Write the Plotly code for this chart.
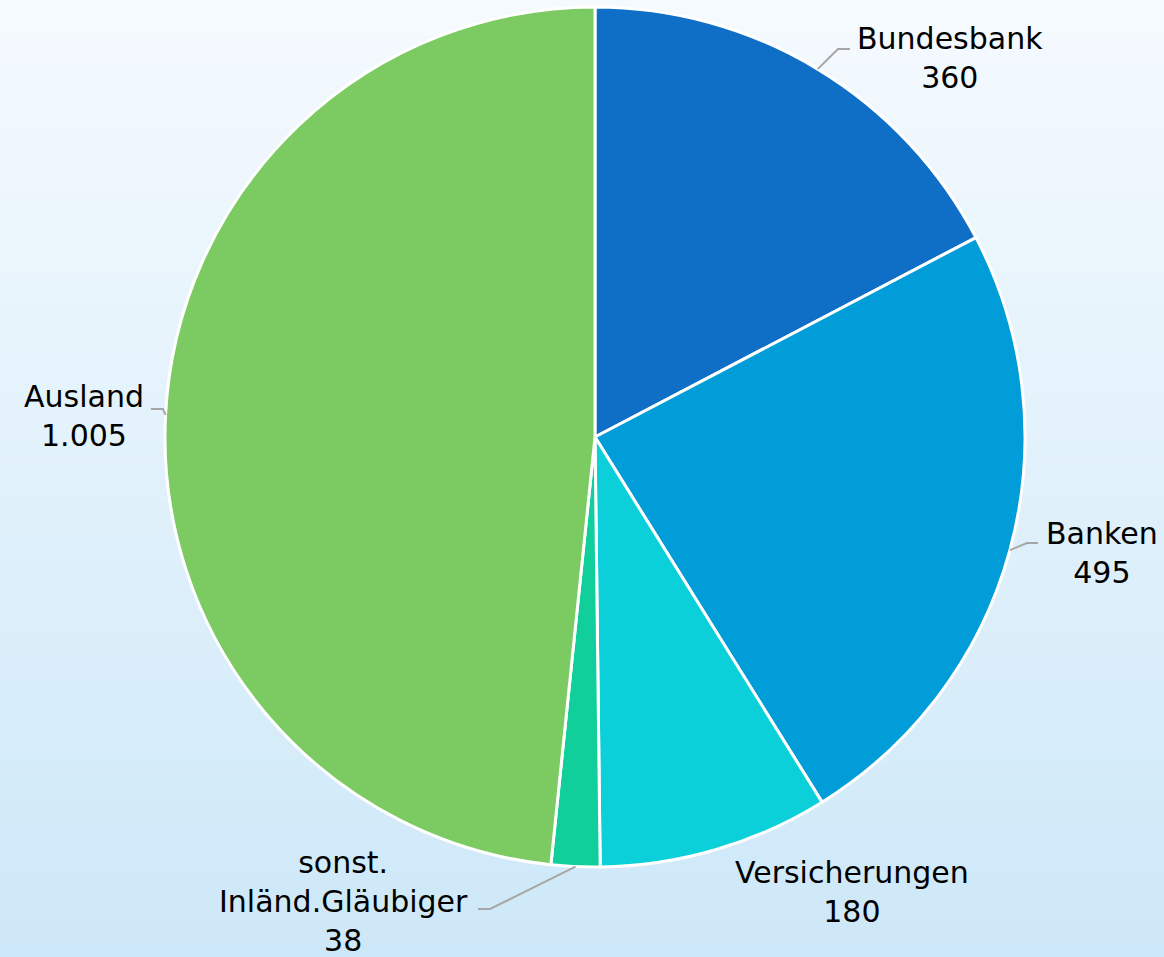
import math
import plotly.graph_objects as go

# ---- data ----
labels = ["Bundesbank", "Banken", "Versicherungen", "sonst.<br>Inländ.Gläubiger", "Ausland"]
values = [360, 495, 180, 38, 1005]
value_text = ["360", "495", "180", "38", "1.005"]

# ---- style ----
colors = ["#0F6FC6", "#009DD9", "#0BD0D9", "#10CF9B", "#7CCA62"]
W, H = 1164, 957
CX, CY, R = 595, 437, 430
FONT = "Century Gothic, DejaVu Sans, sans-serif"
FS = 30

# label block centres (px) and leader elbow points (px); None = no leader
label_pos = [(950, 58), (1102, 553), (852, 892), (343, 901), (84, 416)]
elbows = [[(838, 49), (850, 49)],
          [(1027, 543), (1038, 543)],
          None,
          [(490, 909), (478, 909)],
          [(163, 409), (151, 409)]]


def px2paper(x, y):
    return x / W, 1 - y / H


fig = go.Figure()

fig.add_trace(go.Pie(
    labels=[l.replace("<br>", " ") for l in labels],
    values=values,
    sort=False,
    direction="clockwise",
    rotation=0,
    marker=dict(colors=colors, line=dict(color="white", width=3)),
    textinfo="none",
    hoverinfo="label+value",
    showlegend=False,
    domain=dict(x=[(CX - R) / W, (CX + R) / W], y=[1 - (CY + R) / H, 1 - (CY - R) / H]),
))

# background gradient
shapes = []
c_top = (245, 250, 254)
c_bot = (205, 232, 248)
N = 80
for i in range(N):
    t = i / (N - 1)
    c = tuple(round(c_top[k] + (c_bot[k] - c_top[k]) * t) for k in range(3))
    shapes.append(dict(type="rect", xref="paper", yref="paper", layer="below",
                       x0=0, x1=1, y0=1 - (i + 1) / N - 0.002, y1=1 - i / N,
                       fillcolor="rgb(%d,%d,%d)" % c, line=dict(width=0)))

annotations = []
total = sum(values)
cum = 0
for i, v in enumerate(values):
    mid = (cum + v / 2) / total * 2 * math.pi
    cum += v
    sx = CX + R * math.sin(mid)
    sy = CY - R * math.cos(mid)
    if elbows[i] is not None:
        pts = [(sx, sy)] + elbows[i]
        path = ""
        for j, (x, y) in enumerate(pts):
            px, py = px2paper(x, y)
            path += ("M" if j == 0 else "L") + " %.5f %.5f " % (px, py)
        shapes.append(dict(type="path", xref="paper", yref="paper", path=path,
                           line=dict(color="#A6A6A6", width=2), layer="above"))
    lx, ly = px2paper(*label_pos[i])
    annotations.append(dict(
        x=lx, y=ly, xref="paper", yref="paper", xanchor="center", yanchor="middle",
        text=labels[i] + "<br>" + value_text[i], showarrow=False, align="center",
        font=dict(family=FONT, size=FS, color="#000000"),
    ))

fig.update_layout(
    width=W, height=H,
    margin=dict(l=0, r=0, t=0, b=0),
    paper_bgcolor="#E2F0FA",
    plot_bgcolor="rgba(0,0,0,0)",
    shapes=shapes,
    annotations=annotations,
)

fig.write_html("out.html", config={"displayModeBar": False},
               post_script="document.body.style.margin='0';document.body.style.padding='0';")
